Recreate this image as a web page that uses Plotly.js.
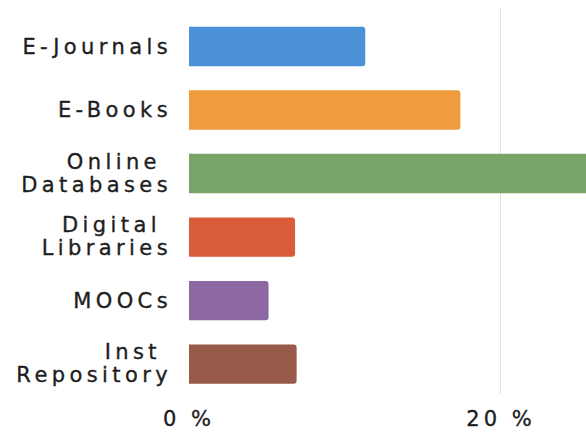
<!DOCTYPE html>
<html>
<head>
<meta charset="utf-8">
<script src="https://cdn.plot.ly/plotly-3.0.1.min.js"></script>
<style>
  html, body { margin: 0; padding: 0; background: #ffffff; }
  #chart { width: 586px; height: 434px; }
  .ytick text { letter-spacing: 4.4px; stroke: #1e1e1e; stroke-width: 0.35px; }
  .xtick text { letter-spacing: 4px; stroke: #1e1e1e; stroke-width: 0.35px; }
</style>
</head>
<body>
<div id="chart"></div>
<script>
const categories = ['E-Journals', 'E-Books', 'Online Databases', 'Digital Libraries', 'MOOCs', 'Inst Repository'];
const tickLabels = ['E-Journals', 'E-Books', 'Online\u00a0<br>Databases', 'Digital\u00a0<br>Libraries', 'MOOCs', 'Inst\u00a0<br>Repository'];
const values = [11.3, 17.4, 27.0, 6.8, 5.1, 6.9];
const barColors = ['#4a91d7', '#ef9c3f', '#78a468', '#d85b3a', '#8c69a0', '#985a49'];
const xTickValues = [0, 20];
const xTickLabels = ['0 %', '20 %'];

const trace = {
  type: 'bar',
  orientation: 'h',
  y: categories,
  x: values,
  width: 0.62,
  marker: { color: barColors, cornerradius: 3, line: { width: 0 } },
  hoverinfo: 'skip'
};

const layout = {
  width: 586,
  height: 434,
  margin: { l: 189, r: 0, t: 9, b: 40 },
  paper_bgcolor: '#ffffff',
  plot_bgcolor: '#ffffff',
  showlegend: false,
  font: { family: 'DejaVu Sans, sans-serif', color: '#1e1e1e' },
  xaxis: {
    range: [0, 25.45],
    tickvals: xTickValues,
    ticktext: xTickLabels,
    showgrid: true,
    gridcolor: '#e2e2e2',
    gridwidth: 1,
    zeroline: false,
    showline: false,
    ticks: '',
    ticklabelstandoff: 10,
    tickfont: { size: 21, color: '#1e1e1e', family: 'DejaVu Sans, sans-serif' }
  },
  yaxis: {
    range: [5.47, -0.59],
    tickvals: categories,
    ticktext: tickLabels,
    showgrid: false,
    zeroline: false,
    showline: false,
    ticks: '',
    ticklabelstandoff: 16,
    tickfont: { size: 21, color: '#1e1e1e', family: 'DejaVu Sans, sans-serif' }
  }
};

Plotly.newPlot('chart', [trace], layout, { staticPlot: true, displayModeBar: false }).then(function () {
  // tighten the line spacing of two-line category labels
  const target = 1.17;
  document.querySelectorAll('.ytick text').forEach(function (t) {
    const lines = t.querySelectorAll('tspan.line');
    if (lines.length < 2) return;
    lines.forEach(function (ln, i) {
      const dy = parseFloat(ln.getAttribute('dy') || '0');
      if (i === 0) {
        ln.setAttribute('dy', (dy + (1.3 - target) / 2) + 'em');
      } else {
        ln.setAttribute('dy', (dy * target / 1.3) + 'em');
      }
    });
  });
});
</script>
</body>
</html>
